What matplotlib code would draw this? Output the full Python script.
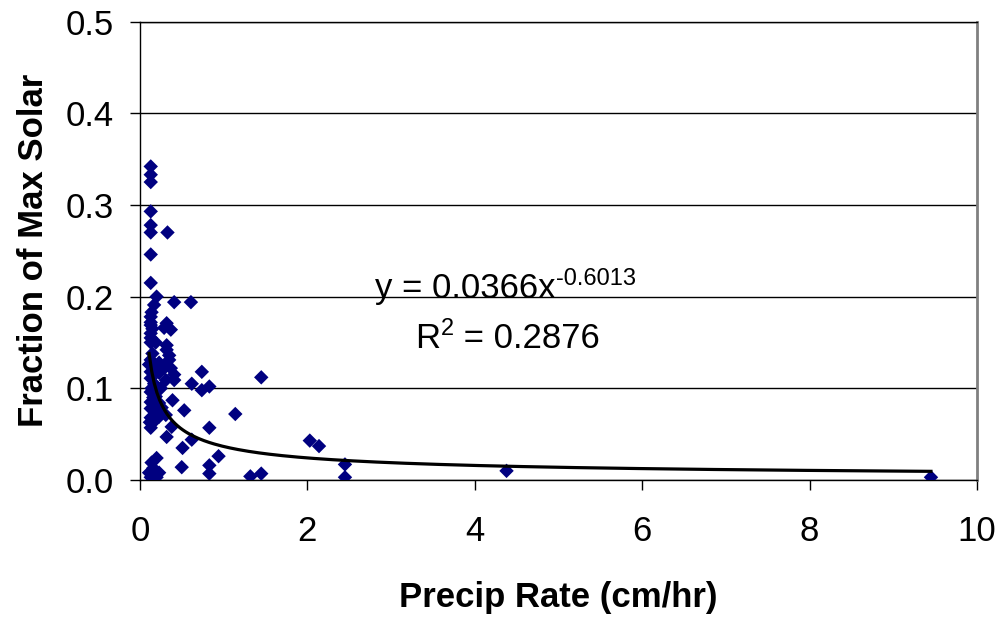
import numpy as np
import matplotlib
matplotlib.use("Agg")
import matplotlib.pyplot as plt

plt.rcParams['font.family'] = ['Liberation Sans', 'DejaVu Sans']

# precipitation rate (cm/hr) and fraction of max solar
precip = [0.13, 0.13, 0.13, 0.13, 0.13, 0.13, 0.33, 0.13, 0.13,
          0.20, 0.41, 0.61, 0.17, 0.14, 0.13, 0.13, 0.13, 0.32, 0.15,
          0.29, 0.37, 0.13, 0.13, 0.13, 0.19, 0.32, 0.32, 0.35, 0.13,
          0.35, 0.11, 0.23, 0.29, 0.37, 0.13, 0.23, 0.41, 0.13, 0.31,
          0.41, 0.62, 0.74, 0.83, 0.74, 1.45,
          0.13, 0.19, 0.13, 0.23, 0.39, 0.53, 0.13, 0.20, 0.13, 0.23,
          0.31, 0.13, 0.38, 0.83, 1.14, 0.32, 0.62, 0.51, 0.94,
          0.16, 0.14, 0.17, 0.15, 0.18, 0.25, 0.26, 0.15, 0.12, 0.17,
          0.20, 0.14, 0.16, 0.11, 0.23, 0.13, 0.20, 0.50, 0.83, 0.83,
          1.32, 1.45, 2.03, 2.14, 2.45, 2.45, 4.38, 9.45]
solar = [0.342, 0.333, 0.325, 0.293, 0.278, 0.270, 0.270, 0.246, 0.215,
         0.200, 0.194, 0.194, 0.191, 0.183, 0.178, 0.172, 0.169, 0.171, 0.165,
         0.166, 0.164, 0.160, 0.155, 0.150, 0.150, 0.147, 0.142, 0.136, 0.131,
         0.131, 0.126, 0.128, 0.122, 0.122, 0.118, 0.117, 0.115, 0.111, 0.109,
         0.109, 0.105, 0.118, 0.102, 0.098, 0.112,
         0.096, 0.091, 0.085, 0.084, 0.087, 0.076, 0.078, 0.074, 0.068, 0.069,
         0.071, 0.057, 0.058, 0.057, 0.072, 0.047, 0.044, 0.035, 0.026,
         0.090, 0.100, 0.080, 0.062, 0.120, 0.100, 0.079, 0.138, 0.063, 0.105,
         0.024, 0.019, 0.013, 0.008, 0.008, 0.003, 0.003, 0.014, 0.016, 0.007,
         0.004, 0.007, 0.043, 0.037, 0.017, 0.003, 0.010, 0.003]

# power trendline shown on the chart
coef_a = 0.0366
coef_b = -0.6013
r2 = 0.2876

fs = 25

fig = plt.figure(figsize=(9.99, 6.17), dpi=100)
ax = fig.add_axes([0.140, 0.222, 0.838, 0.743])

ax.scatter(precip, solar, marker='D', s=54, color='#000080',
           edgecolors='none', zorder=3)

xt = np.linspace(min(precip), max(precip), 300)
ax.plot(xt, coef_a * xt ** coef_b, color='black', lw=2.3, zorder=4)

ax.set_xlim(0, 10)
ax.set_ylim(0, 0.5)
ax.set_xticks(np.arange(0, 11, 2))
ax.set_yticks(np.arange(0, 0.51, 0.1))
ax.set_yticklabels(['%.1f' % v for v in np.arange(0, 0.51, 0.1)])
ax.yaxis.grid(True, color='black', lw=1)
ax.set_axisbelow(True)

for side in ['left', 'bottom', 'top']:
    ax.spines[side].set_color('black')
    ax.spines[side].set_linewidth(1)
ax.spines['right'].set_color('#808080')
ax.spines['right'].set_linewidth(2)

ax.tick_params(axis='both', direction='out', length=7, width=1,
               labelsize=fs, color='black')
ax.tick_params(axis='y', pad=12)
ax.tick_params(axis='x', pad=18)

ax.set_xlabel('Precip Rate (cm/hr)', fontsize=fs, fontweight='bold',
              labelpad=24)
ax.set_ylabel('Fraction of Max Solar', fontsize=fs, fontweight='bold',
              labelpad=11)

eq = ax.text(0.281, 0.418, 'y = %.4fx' % coef_a,
             transform=ax.transAxes, fontsize=fs, ha='left', va='center')
ax.annotate('%.4f' % coef_b, xy=(1, 0.78), xycoords=eq, fontsize=17,
            ha='left', va='center')
rt = ax.text(0.329, 0.309, 'R', transform=ax.transAxes, fontsize=fs,
             ha='left', va='center')
sq = ax.annotate('2', xy=(1, 0.78), xycoords=rt, fontsize=17,
                 ha='left', va='center')
ax.annotate(' = %.4f' % r2, xy=(1, 0), xycoords=(sq, rt), fontsize=fs,
            ha='left', va='bottom')

fig.savefig('out.png', dpi=100)
